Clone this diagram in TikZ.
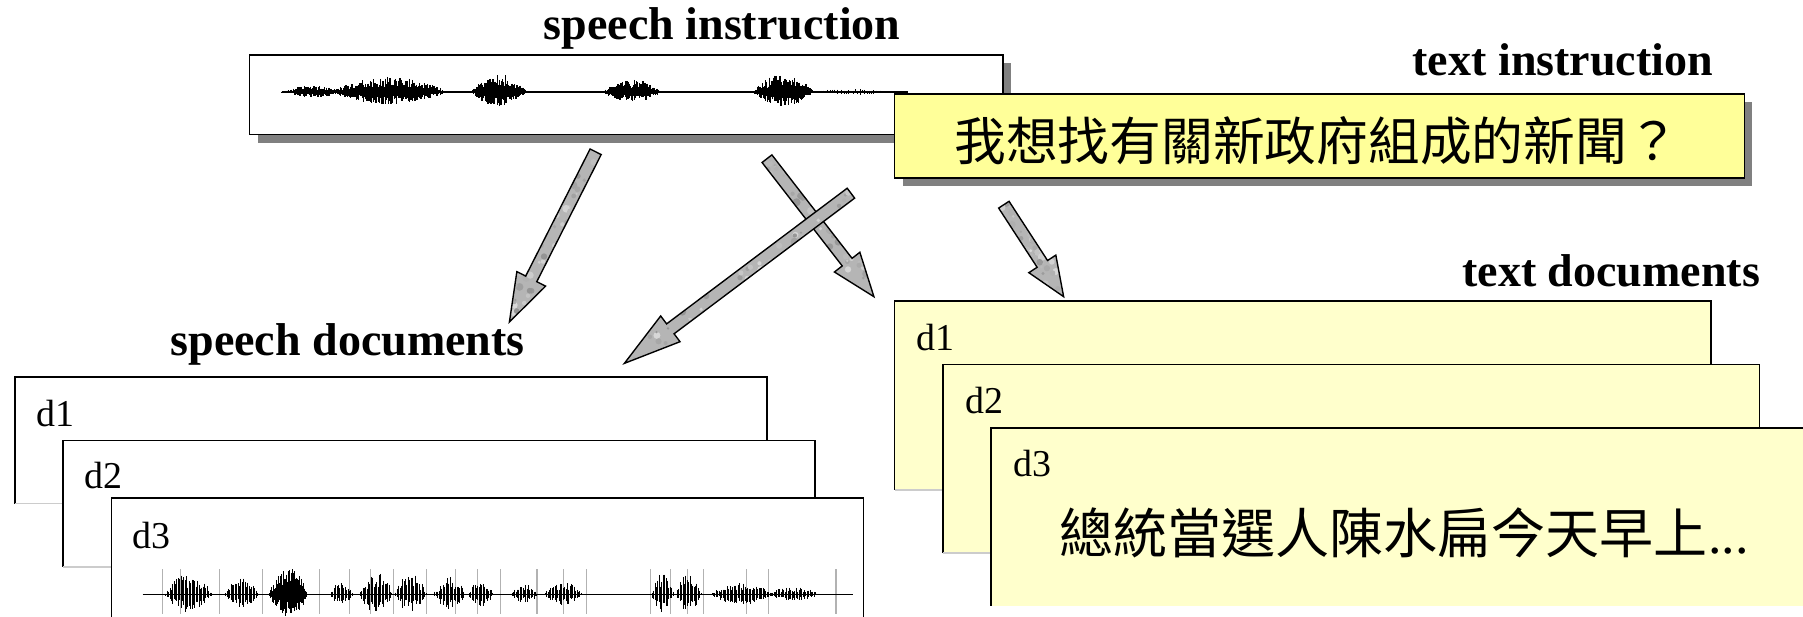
\documentclass[tikz,border=0pt]{standalone}
\usepackage{fontspec}
\setmainfont{Liberation Serif}
\newfontfamily\cjk{Noto Sans CJK TC}
\usetikzlibrary{calc}

\definecolor{instrYellow}{HTML}{FFFF99}
\definecolor{docYellow}{HTML}{FFFFCC}
\definecolor{shadowGray}{HTML}{808080}

\tikzset{
  heading/.style={font=\fontsize{20}{24}\selectfont\bfseries, inner sep=0pt},
  doclabel/.style={font=\fontsize{16.5}{20}\selectfont, inner sep=0pt},
  cjktext/.style={font=\cjk\fontsize{22.5}{26}\selectfont, inner sep=0pt},
  arrowedge/.style={draw=black, line width=0.6pt, line join=miter},
  frame/.style={line width=0.7pt},
}

% block arrow with a mottled grey body: #1 start, #2 tip, #3 head length
\newcommand\blockarrow[3]{%
  \coordinate (#2-base) at ($(#2)!#3!(#1)$);
  \def\arrowoutline{($(#1)!2.7pt!90:(#2)$) -- ($(#2-base)!2.7pt!90:(#2)$) --
    ($(#2-base)!7pt!90:(#2)$) -- (#2) --
    ($(#2-base)!7pt!-90:(#2)$) -- ($(#2-base)!2.7pt!-90:(#2)$) --
    ($(#1)!2.7pt!-90:(#2)$) -- cycle}
  \fill[gray!58] \arrowoutline;
  \begin{scope}
    \clip \arrowoutline;
    \foreach \k in {1,...,70}{
      \pgfmathsetmacro\mt{rnd}
      \pgfmathsetmacro\mo{(rnd-0.5)*12}
      \pgfmathsetmacro\ms{int(30+55*rnd)}
      \pgfmathsetmacro\mr{1+2.5*rnd}
      \coordinate (mk) at ($(#1)!\mt!(#2)$);
      \fill[gray!\ms] ($(mk)!\mo pt!90:(#2)$) circle (\mr);
    }
  \end{scope}
  \path[arrowedge] \arrowoutline;
}

% one burst of a speech waveform: centre, half width, amplitude, baseline, step, line width
\newcommand\waveblob[6]{%
  \pgfmathsetmacro\wbA{#1-#2}
  \pgfmathsetmacro\wbB{#1-#2+#5}
  \pgfmathsetmacro\wbC{#1+#2}
  \foreach \wx in {\wbA,\wbB,...,\wbC}{
    \pgfmathsetmacro\wenv{#3*(1-((\wx-#1)/#2)^2)}
    \pgfmathsetmacro\wup{\wenv*(0.35+0.75*rnd)}
    \pgfmathsetmacro\wdn{\wenv*(0.3+0.6*rnd)}
    \draw[line width=#6] (\wx,#4-\wup) -- (\wx,#4+\wdn);
  }
}

% document sheet: x1, y1, x2, y2, fill colour
\newcommand\docsheet[5]{%
  \fill[#5] (#1,#2) rectangle (#3,#4);
  \draw[frame] (#1,#4) -- (#1,#2) -- (#3,#2) -- (#3,#4);
  \draw[gray!40, line width=0.6pt] (#1,#4) -- (#3,#4);
}

\begin{document}
\begin{tikzpicture}[x=0.5pt,y=-0.5pt]
\pgfmathsetseed{7}
\useasboundingbox (0,0) rectangle (1568,536);
\clip (0,0) rectangle (1568,536);

% speech instruction panel
\fill[shadowGray] (224,55) rectangle (879,124);
\filldraw[fill=white, frame] (217,48) rectangle (872,117);
\draw[line width=0.6pt] (245,80) -- (790,80);
\waveblob{272}{28}{5}{80}{1}{0.6pt}
\waveblob{338}{52}{12}{80}{1}{0.6pt}
\waveblob{434}{25}{14}{80}{0.9}{0.6pt}
\waveblob{550}{26}{10}{80}{0.9}{0.6pt}
\waveblob{681}{27}{14}{80}{0.9}{0.6pt}
\waveblob{742}{38}{2.5}{80}{2}{0.4pt}

% text instruction panel
\fill[shadowGray] (785,89) rectangle (1524,162);
\filldraw[fill=instrYellow, frame] (778,82) rectangle (1517,155);
\node[cjktext] (tq) at (1145,122) {我想找有關新政府組成的新聞？};

% headings
\node[heading, anchor=base] (sphead) at (628,34) {speech instruction};
\node[heading, anchor=base east] (txhead) at (1490,66) {text instruction};
\node[heading, anchor=base west] (spdocs) at (148,309) {speech documents};
\node[heading, anchor=base east] (txdocs) at (1531,249) {text documents};

% retrieval arrows
\coordinate (a1s) at (518,132); \coordinate (a1e) at (443,280);
\coordinate (a2s) at (667,138); \coordinate (a2e) at (760,258);
\coordinate (a3s) at (740,168); \coordinate (a3e) at (543,316);
\coordinate (a4s) at (873,178); \coordinate (a4e) at (925,258);
\blockarrow{a1s}{a1e}{21pt}
\blockarrow{a2s}{a2e}{19pt}
\blockarrow{a4s}{a4e}{17pt}
\blockarrow{a3s}{a3e}{25pt}

% speech documents
\docsheet{13}{328}{667}{438}{white}
\node[doclabel, anchor=base west] (sd1) at (31,371) {d1};
\docsheet{55}{383}{709}{493}{white}
\node[doclabel, anchor=base west] (sd2) at (73,425) {d2};
\docsheet{97}{433}{751}{545}{white}
\node[doclabel, anchor=base west] (sd3) at (115,477) {d3};
\foreach \tx in {141,157,191,228,278,304,322,342,371,396,415,435,467,490,510,566,583,598,612,649,668,727}
  \draw[gray!60, line width=0.5pt] (\tx,495) -- (\tx,534);
\draw[line width=0.5pt] (124,517) -- (742,517);
\waveblob{164}{21}{17}{517}{1.2}{0.35pt}
\waveblob{210}{15}{13}{517}{1.2}{0.35pt}
\waveblob{251}{17}{22}{517}{0.8}{0.45pt}
\waveblob{297}{10}{11}{517}{1.2}{0.35pt}
\waveblob{327}{15}{18}{517}{1.2}{0.35pt}
\waveblob{357}{14}{17}{517}{1.2}{0.35pt}
\waveblob{391}{14}{15}{517}{1.2}{0.35pt}
\waveblob{418}{11}{12}{517}{1.2}{0.35pt}
\waveblob{456}{12}{8}{517}{1.2}{0.35pt}
\waveblob{490}{17}{10}{517}{1.2}{0.35pt}
\waveblob{576}{10}{17}{517}{1.2}{0.35pt}
\waveblob{599}{11}{18}{517}{1.2}{0.35pt}
\waveblob{645}{27}{10}{517}{1.2}{0.35pt}
\waveblob{690}{24}{6}{517}{1.2}{0.35pt}

% text documents
\docsheet{778}{262}{1488}{426}{docYellow}
\node[doclabel, anchor=base west] (td1) at (797,305) {d1};
\docsheet{820}{317}{1530}{481}{docYellow}
\node[doclabel, anchor=base west] (td2) at (839,360) {d2};
\fill[docYellow] (862,372) rectangle (1580,527);
\draw[frame] (862,527) -- (862,372) -- (1580,372);
\node[doclabel, anchor=base west] (td3) at (881,414) {d3};
\node[cjktext, font=\cjk\fontsize{23.5}{27}\selectfont, anchor=west] (tdtext) at (921,463)
  {總統當選人陳水扁今天早上\rmfamily...};
\end{tikzpicture}
\end{document}
